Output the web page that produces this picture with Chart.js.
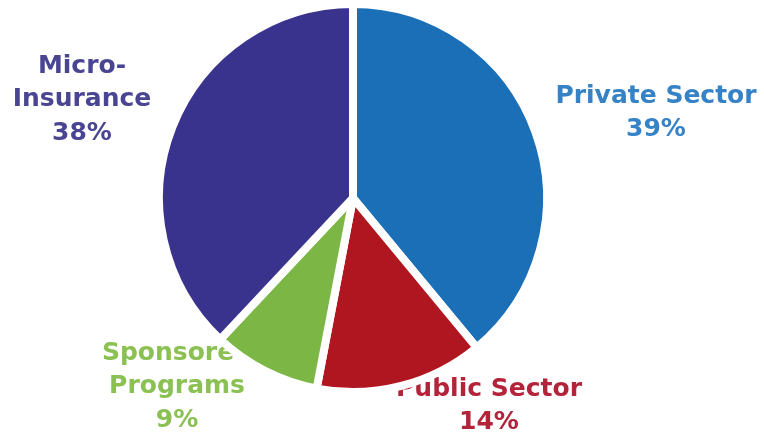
<!DOCTYPE html>
<html>
<head>
<meta charset="utf-8">
<script src="https://cdn.jsdelivr.net/npm/chart.js@4/dist/chart.umd.min.js"></script>
<style>
html,body{margin:0;padding:0;background:#fff;}
#wrap{width:764px;height:436px;position:relative;}
</style>
</head>
<body>
<div id="wrap"><canvas id="c" width="764" height="436"></canvas></div>
<script>
const categories = ["Private Sector", "Public Sector", "Sponsored Programs", "Micro-Insurance"];
const shares = [39, 14, 9, 38];
const labelLines = [["Private Sector"], ["Public Sector"], ["Sponsored", "Programs"], ["Micro-", "Insurance"]];
const sliceColors = ["#1b6fb6", "#b0161f", "#7cb746", "#3a338e"];
const textColors = ["#3583c6", "#b3243a", "#8bc152", "#4a4592"];
// label anchor (centre of first line) in canvas px
const labelPos = [[656, 96], [489, 389], [177, 353], [82, 66]];

const labelPlugin = {
  id: 'sliceLabels',
  beforeDatasetsDraw(chart) {
    const ctx = chart.ctx;
    ctx.save();
    ctx.font = 'bold 25px "DejaVu Sans", sans-serif';
    ctx.textAlign = 'center';
    ctx.textBaseline = 'middle';
    const lh = 33.5;
    categories.forEach((c, i) => {
      const lines = labelLines[i].concat([shares[i] + '%']);
      ctx.fillStyle = textColors[i];
      lines.forEach((ln, j) => {
        ctx.fillText(ln, labelPos[i][0], labelPos[i][1] + j * lh);
      });
    });
    ctx.restore();
  }
};

new Chart(document.getElementById('c'), {
  type: 'pie',
  data: {
    labels: categories,
    datasets: [{
      data: shares,
      backgroundColor: sliceColors,
      borderColor: '#ffffff',
      borderWidth: 8,
      hoverOffset: 0
    }]
  },
  options: {
    responsive: false,
    animation: false,
    layout: { padding: { left: 155, right: 213, top: 0, bottom: 40 } },
    plugins: { legend: { display: false }, tooltip: { enabled: false } }
  },
  plugins: [labelPlugin]
});
</script>
</body>
</html>
